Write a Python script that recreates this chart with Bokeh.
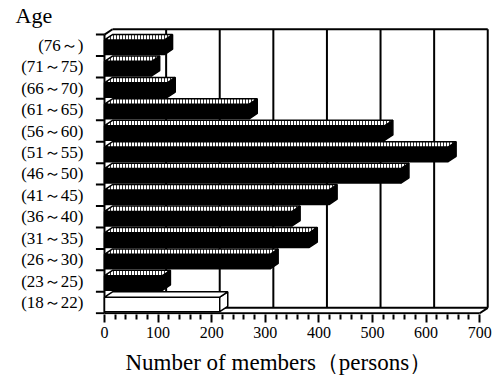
from bokeh.plotting import figure
from bokeh.models import FixedTicker, Range1d, ColumnDataSource, Title
from bokeh.embed import file_html
from bokeh.resources import INLINE

# Membership by age group (bottom band first)
age_groups = ["(18～22)", "(23～25)", "(26～30)", "(31～35)", "(36～40)", "(41～45)",
              "(46～50)", "(51～55)", "(56～60)", "(61～65)", "(66～70)", "(71～75)", "(76～)"]
members = [215, 108, 309, 382, 350, 419, 553, 641, 523, 270, 117, 88, 112]
x_ticks = [0, 100, 200, 300, 400, 500, 600, 700]
open_group = "(18～22)"   # drawn as an open (white) bar

FONT = "Liberation Serif"
DX = 15.0            # oblique depth along x (data units)
DY = 0.25            # oblique depth along y (band units)
Y0, Y1 = 0.07, 0.75  # front face extent inside each band
n = len(age_groups)
xmax = x_ticks[-1]

p = figure(width=497, height=383, output_backend="svg", toolbar_location=None,
           x_range=Range1d(-20.5, xmax + 22), y_range=Range1d(-0.06, n + 0.33),
           min_border_left=93, min_border_right=6, min_border_top=26, min_border_bottom=69)
p.xgrid.visible = False
p.ygrid.visible = False
p.outline_line_color = None
p.background_fill_color = "white"

# x axis: ticks only, the floor line is drawn below
xa = p.xaxis[0]
xa.ticker = FixedTicker(ticks=x_ticks,
                        minor_ticks=[v for v in range(0, xmax + 1, 20) if v % 100])
xa.axis_line_color = None
xa.major_tick_in = 0
xa.major_tick_out = 8
xa.minor_tick_in = 0
xa.minor_tick_out = 5
xa.major_tick_line_width = 2
xa.minor_tick_line_width = 2
xa.major_label_standoff = 4
xa.major_label_text_font = FONT
xa.major_label_text_font_size = "16px"
xa.major_label_text_color = "black"

# y axis: category names centred in each band
ya = p.yaxis[0]
centers = [i + 0.5 for i in range(n)]
ya.ticker = FixedTicker(ticks=centers, minor_ticks=[])
ya.major_label_overrides = {c: g for c, g in zip(centers, age_groups)}
ya.axis_line_color = None
ya.major_tick_line_color = None
ya.major_tick_out = 0
ya.major_tick_in = 0
ya.minor_tick_line_color = None
ya.major_label_standoff = 10
ya.major_label_text_font = FONT
ya.major_label_text_font_size = "17px"
ya.major_label_text_color = "black"

# back wall: gridlines and frame
gx = [v + DX for v in x_ticks[1:]]
p.segment(x0=gx, y0=[DY] * len(gx), x1=gx, y1=[n + DY] * len(gx),
          line_color="black", line_width=2)
frame_x0 = [DX, DX, 0, xmax, 0, 0]
frame_y0 = [n + DY, DY, 0, 0, 0, n]
frame_x1 = [xmax + DX, xmax + DX, xmax, xmax + DX, 0, DX]
frame_y1 = [n + DY, DY, 0, DY, n, n + DY]
p.segment(x0=frame_x0, y0=frame_y0, x1=frame_x1, y1=frame_y1,
          line_color="black", line_width=2)
# band separators on the value axis
p.segment(x0=[-16] * (n + 1), y0=list(range(n + 1)), x1=[0] * (n + 1), y1=list(range(n + 1)),
          line_color="black", line_width=2)


def bar_source(idx):
    front_l, front_r, front_b, front_t = [], [], [], []
    top_xs, top_ys, side_xs, side_ys = [], [], [], []
    for i in idx:
        v = members[i]
        front_l.append(0)
        front_r.append(v)
        front_b.append(i + Y0)
        front_t.append(i + Y1)
        top_xs.append([0, v, v + DX, DX])
        top_ys.append([i + Y1, i + Y1, i + Y1 + DY, i + Y1 + DY])
        side_xs.append([v, v + DX, v + DX, v])
        side_ys.append([i + Y0, i + Y0 + DY, i + Y1 + DY, i + Y1])
    front = ColumnDataSource(dict(left=front_l, right=front_r, bottom=front_b, top=front_t))
    top = ColumnDataSource(dict(xs=top_xs, ys=top_ys))
    side = ColumnDataSource(dict(xs=side_xs, ys=side_ys))
    return front, top, side


solid = [i for i, g in enumerate(age_groups) if g != open_group]
hollow = [i for i, g in enumerate(age_groups) if g == open_group]

f, t, s = bar_source(solid)
p.quad(left="left", right="right", bottom="bottom", top="top", source=f,
       fill_color="black", line_color="black", line_width=1.5)
p.patches(xs="xs", ys="ys", source=s, fill_color="black", line_color="black", line_width=1.5)
p.patches(xs="xs", ys="ys", source=t, fill_color="white", hatch_pattern="|",
          hatch_scale=3, hatch_weight=1, hatch_color="#333333",
          line_color="black", line_width=1.5)

f, t, s = bar_source(hollow)
p.quad(left="left", right="right", bottom="bottom", top="top", source=f,
       fill_color="white", line_color="black", line_width=1.5)
p.patches(xs="xs", ys="ys", source=s, fill_color="white", line_color="black", line_width=1.5)
p.patches(xs="xs", ys="ys", source=t, fill_color="white", line_color="black", line_width=1.5)

# titles
p.title.visible = False
p.add_layout(Title(text="Age", text_font=FONT, text_font_size="22px", text_font_style="normal",
                   text_color="black", align="left", offset=-78, standoff=0), "above")
p.add_layout(Title(text="Number of members（persons）", text_font=FONT, text_font_size="23px",
                   text_font_style="normal", text_color="black", align="left", offset=32,
                   standoff=15), "below")

open("out.html", "w").write(file_html(p, INLINE))
